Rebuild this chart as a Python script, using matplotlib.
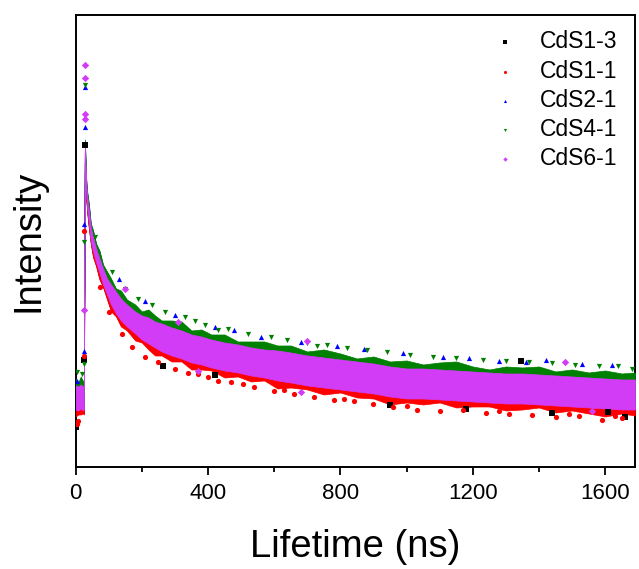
#!/usr/bin/env python3
"""TRPL decay curves of the CdS samples."""

import matplotlib

matplotlib.use("Agg")
import matplotlib.pyplot as plt
import numpy as np
from matplotlib.ticker import MultipleLocator

plt.rcParams["font.family"] = ["Liberation Sans", "DejaVu Sans"]

# sample names (drawing order: last on top)
samples = ["CdS1-3", "CdS1-1", "CdS2-1", "CdS4-1", "CdS6-1"]

# knot times (ns) of the decay traces
t_knots = [0, 8, 16, 22, 25, 28, 30, 32, 35, 40, 46, 53, 62, 72, 83, 95, 107,
           122, 137, 155, 180, 200, 220, 240, 260, 290, 320, 350, 380, 410,
           450, 490, 530, 570, 610, 650, 700, 750, 800, 850, 900, 950, 1000,
           1050, 1100, 1150, 1200, 1250, 1300, 1350, 1400, 1450, 1500, 1550,
           1600, 1650, 1690]

# centre of the CdS6-1 trace (a.u.)
trace_mid = [0.70, 0.69, 0.71, 0.69, 0.70, 3.18, 2.98, 2.78, 2.65, 2.51, 2.33,
             2.23, 2.12, 2.02, 1.91, 1.81, 1.73, 1.65, 1.58, 1.52, 1.45, 1.40,
             1.37, 1.33, 1.30, 1.26, 1.23, 1.19, 1.17, 1.14, 1.11, 1.09, 1.06,
             1.04, 1.02, 1.00, 0.97, 0.95, 0.93, 0.91, 0.89, 0.86, 0.84, 0.84,
             0.83, 0.82, 0.81, 0.80, 0.79, 0.79, 0.78, 0.77, 0.76, 0.75, 0.74,
             0.73, 0.73]

# half width of the noise band (a.u.)
trace_spread = [0.12, 0.12, 0.12, 0.12, 0.12, 0.05, 0.06, 0.06, 0.06, 0.07,
                0.07, 0.07, 0.07, 0.07, 0.08, 0.08, 0.10, 0.11, 0.11, 0.11,
                0.11, 0.12, 0.13, 0.13, 0.14, 0.14, 0.14, 0.14, 0.14, 0.14,
                0.14, 0.14, 0.14, 0.14, 0.15, 0.15, 0.15, 0.15, 0.15, 0.15,
                0.15, 0.15, 0.15, 0.15, 0.15, 0.15, 0.15, 0.15, 0.15, 0.15,
                0.15, 0.15, 0.15, 0.15, 0.15, 0.15, 0.15]

# level shift of each sample relative to CdS6-1 (a.u.)
sample_shift = [-0.03, -0.04, 0.04, 0.05, 0.0]

# channel-to-channel roughness of the upper (green) and lower (red) edges
upper_rough = [0.02, -0.01, 0.03, 0.00, 0.01, 0.00, 0.00, 0.00, 0.00, 0.01,
               -0.01, 0.02, 0.00, 0.03, -0.01, 0.02, 0.01, -0.02, 0.03, 0.00,
               0.02, -0.01, 0.03, 0.01, -0.02, 0.02, 0.04, -0.01, 0.02, 0.00,
               0.03, -0.02, 0.01, 0.03, 0.00, 0.02, -0.01, 0.03, 0.01, -0.02,
               0.02, 0.00, 0.03, -0.01, 0.02, 0.04, 0.00, -0.02, 0.02, 0.01,
               0.03, -0.01, 0.02, 0.00, 0.03, 0.01, 0.02]
lower_rough = [-0.03, 0.00, -0.02, 0.01, -0.01, 0.00, 0.00, 0.00, 0.00, -0.01,
               0.01, -0.02, 0.00, -0.03, 0.01, -0.01, -0.03, 0.01, -0.02,
               0.00, -0.03, 0.01, -0.02, -0.04, 0.00, -0.02, 0.01, -0.03,
               -0.01, 0.01, -0.03, 0.00, -0.02, 0.01, -0.04, -0.01, 0.00,
               -0.03, 0.01, -0.02, -0.01, -0.04, 0.00, -0.02, 0.01, -0.03,
               -0.01, 0.00, -0.03, -0.02, 0.01, -0.03, 0.00, -0.02, -0.04,
               0.00, -0.02]

# peak / rising-edge points (ns, a.u.)
peak_t = [
    [25.4, 28.2],
    [25.4, 25.6],
    [28.0, 28.3, 25.6, 25.4],
    [28.0, 25.6, 25.4],
    [28.0, 28.5, 27.8, 28.2, 25.6],
]
peak_i = [
    [1.07, 3.22],
    [2.36, 1.11],
    [3.80, 3.40, 2.43, 1.16],
    [3.82, 2.25, 1.03],
    [4.02, 3.89, 3.53, 3.48, 1.57],
]

# scattered channels off the main band (ns, a.u.)
stray_t = [
    [2, 265, 420, 950, 1180, 1346, 1440, 1610, 1660],
    [3, 7, 75, 100, 140, 170, 210, 250, 300, 340, 370, 400, 430, 470, 505,
     540, 600, 630, 660, 720, 780, 810, 840, 900, 960, 1000, 1030, 1100,
     1170, 1240, 1280, 1310, 1380, 1450, 1490, 1520, 1590, 1630, 1650],
    [3, 130, 210, 300, 420, 480, 560, 680, 790, 870, 990, 1110, 1190, 1280,
     1360, 1420, 1530, 1620],
    [5, 20, 60, 110, 150, 190, 230, 270, 330, 360, 390, 430, 460, 520, 590,
     640, 700, 730, 760, 820, 880, 940, 1010, 1080, 1150, 1230, 1300, 1370,
     1440, 1510, 1580, 1640, 1680],
    [150, 310, 370, 680, 700, 1480, 1560],
]
stray_i = [
    [0.40, 1.01, 0.92, 0.62, 0.58, 1.06, 0.54, 0.55, 0.50],
    [0.43, 0.46, 1.80, 1.55, 1.33, 1.20, 1.10, 1.05, 0.98, 0.94, 0.93, 0.90,
     0.86, 0.85, 0.83, 0.80, 0.76, 0.77, 0.73, 0.70, 0.67, 0.68, 0.66, 0.63,
     0.60, 0.61, 0.57, 0.56, 0.57, 0.54, 0.56, 0.53, 0.52, 0.50, 0.53, 0.51,
     0.47, 0.51, 0.49],
    [0.86, 1.88, 1.66, 1.52, 1.40, 1.37, 1.30, 1.25, 1.21, 1.18, 1.14, 1.10,
     1.09, 1.06, 1.05, 1.07, 1.03, 1.02],
    [0.95, 0.93, 2.30, 1.95, 1.78, 1.68, 1.62, 1.55, 1.50, 1.46, 1.42, 1.37,
     1.38, 1.33, 1.30, 1.27, 1.24, 1.21, 1.22, 1.19, 1.17, 1.15, 1.12, 1.10,
     1.09, 1.07, 1.06, 1.05, 1.04, 1.02, 1.01, 1.01, 0.98],
    [1.78, 1.45, 0.96, 0.75, 1.26, 1.05, 0.56],
]

colors = ["#000000", "#ff0000", "#0000ff", "#008000", "#d23cf7"]
markers = ["s", "o", "^", "v", "D"]


def main():
    t = np.asarray(t_knots, dtype=float)
    mid = np.asarray(trace_mid, dtype=float)
    spread = np.asarray(trace_spread, dtype=float)
    up = np.asarray(upper_rough, dtype=float)
    low = np.asarray(lower_rough, dtype=float)

    fig = plt.figure(figsize=(6.39, 5.69), dpi=100)
    ax = fig.add_axes([0.1183, 0.1784, 0.8754, 0.7953])

    handles = []
    for k, name in enumerate(samples):
        centre = mid + sample_shift[k]
        top = centre + spread + (up if name in ("CdS4-1", "CdS2-1") else 0.0)
        bottom = centre - spread + (low if name in ("CdS1-1", "CdS1-3") else 0.0)
        ax.fill_between(t, bottom, top, color=colors[k], lw=0.5,
                        edgecolor=colors[k], zorder=2 + k)
        ax.scatter(peak_t[k], peak_i[k], s=14, marker=markers[k],
                   color=colors[k], lw=0, zorder=8 + k)
        h = ax.scatter(stray_t[k], stray_i[k], s=14, marker=markers[k],
                       color=colors[k], lw=0, zorder=8 + k, label=name)
        handles.append(h)

    ax.set_xlim(0, 1690)
    ax.set_ylim(0, 4.525)
    ax.set_yticks([])
    ax.xaxis.set_major_locator(MultipleLocator(400))
    ax.xaxis.set_minor_locator(MultipleLocator(200))
    ax.tick_params(axis="x", which="major", direction="out", length=6,
                   width=1.3, labelsize=16, pad=5)
    ax.tick_params(axis="x", which="minor", direction="out", length=3.5,
                   width=1.3)
    for side in ax.spines.values():
        side.set_linewidth(1.4)

    ax.set_xlabel("Lifetime (ns)", fontsize=27.5, labelpad=18)
    ax.set_ylabel("Intensity", fontsize=27.5, labelpad=21)

    ax.legend(handles=handles, loc="upper right", bbox_to_anchor=(0.968, 0.966),
              frameon=False, fontsize=16.5, markerscale=0.6, handlelength=1.0,
              handletextpad=1.0, labelspacing=0.27, borderpad=0,
              borderaxespad=0)

    fig.savefig("out.png", dpi=100)
    plt.close(fig)


if __name__ == "__main__":
    main()
